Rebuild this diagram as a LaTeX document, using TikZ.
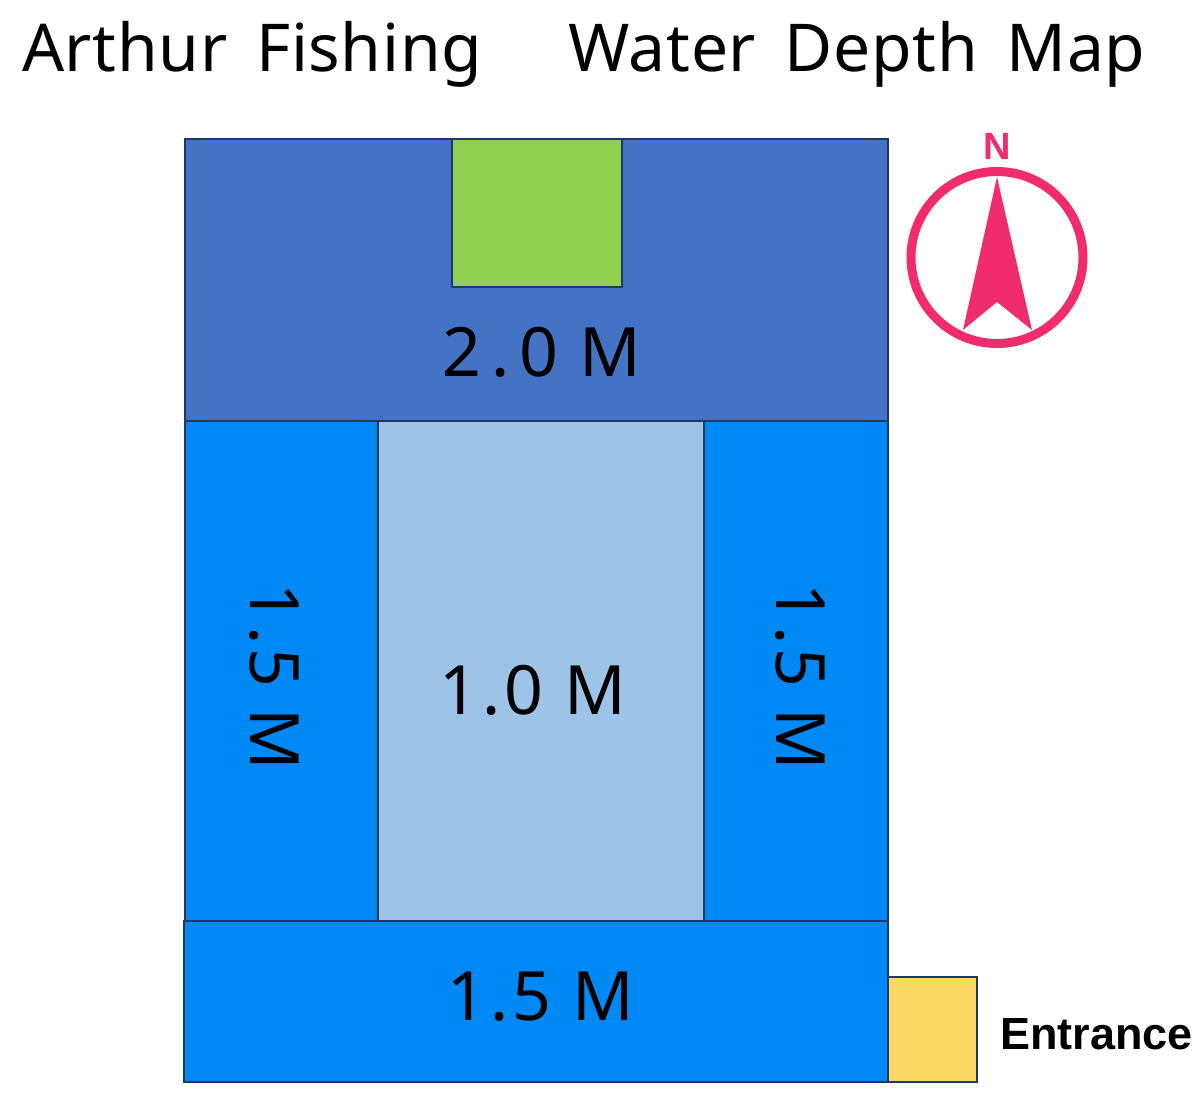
\documentclass[tikz,border=0pt]{standalone}
\usepackage{fontspec}
\setmainfont{Noto Sans}
\newfontfamily\titlefont[LetterSpace=1,WordSpace=1.6]{Noto Sans}
\newfontfamily\depthfont[LetterSpace=5.5]{Noto Sans}
\newfontfamily\signfont{Liberation Sans}
\usepackage{xcolor}
\definecolor{deep}{HTML}{4472C4}
\definecolor{mid}{HTML}{0088F4}
\definecolor{shallow}{HTML}{9DC3E6}
\definecolor{island}{HTML}{92D050}
\definecolor{gate}{HTML}{FFD966}
\definecolor{edge}{HTML}{1F3864}
\definecolor{compass}{HTML}{F02C6E}
\tikzset{
  zone/.style={draw=edge, line width=1.5pt},
  depthLbl/.style={text=black, font=\depthfont\fontsize{68}{68}\selectfont},
  titleLbl/.style={text=black, anchor=base west, inner sep=0pt, font=\titlefont\fontsize{66}{66}\selectfont},
}
\begin{document}
\begin{tikzpicture}[x=1pt, y=-1pt]
  \useasboundingbox (0,0) rectangle (1200,1105);

  % Zones
  \draw[zone, fill=deep]    (185,139) rectangle (888,421);
  \draw[zone, fill=mid]     (185,421) rectangle (378,921);
  \draw[zone, fill=mid]     (704,421) rectangle (888,921);
  \draw[zone, fill=shallow] (378,421) rectangle (704,921);
  \draw[zone, fill=mid]     (184,921) rectangle (888,1082);
  \draw[zone, fill=island]  (452,139) rectangle (622,287);
  \draw[zone, fill=gate]    (888,977) rectangle (977,1082);

  % Title
  \node[titleLbl] (titleL) at (22,72) {Arthur Fishing};
  \node[titleLbl] (titleR) at (568,72) {Water Depth Map};

  % Depth labels
  \node[depthLbl] (deepLbl) at (542,352) {2\hspace{9.5pt}.\hspace{9.5pt}0 M};
  \node[depthLbl] (midLbl) at (533,690) {1.0 M};
  \node[depthLbl] (southLbl) at (541,997) {1.5 M};
  \node[depthLbl, rotate=-90] (westLbl) at (274,677) {1.5 M};
  \node[depthLbl, rotate=-90] (eastLbl) at (800,677) {1.5 M};
  \node[text=black, font=\signfont\fontsize{45}{45}\selectfont\bfseries, anchor=base west, inner sep=0pt] (entrance) at (1000,1049) {Entrance};

  % Compass
  \coordinate (C) at (997,257.5);
  \draw[draw=compass, line width=9pt] (C) circle (86);
  \fill[compass] (997,177) -- (1032,330) -- (997,302) -- (963,330) -- cycle;
  \node[text=compass, font=\signfont\fontsize{38}{38}\selectfont\bfseries] (north) at (997,146) {N};
\end{tikzpicture}
\end{document}
